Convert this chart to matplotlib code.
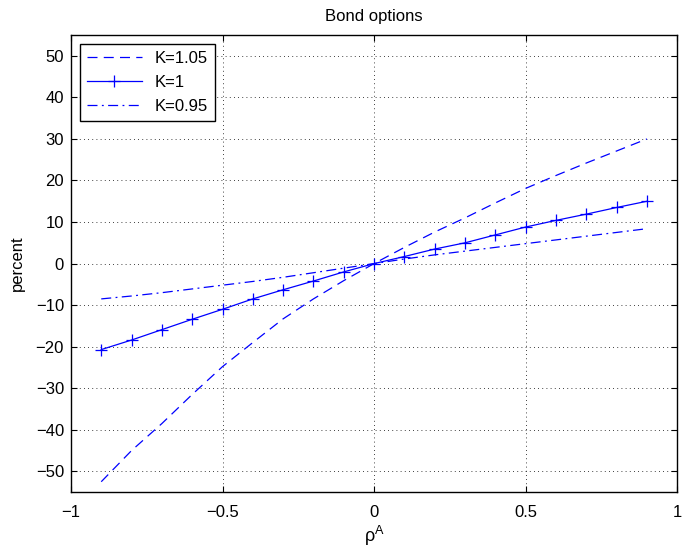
import numpy as np
import matplotlib.pyplot as plt

plt.rcParams['font.family'] = ['Liberation Sans', 'DejaVu Sans']
plt.rcParams['font.size'] = 12

rho = [-0.9, -0.8, -0.7, -0.6, -0.5, -0.4, -0.3, -0.2, -0.1, 0.0,
       0.1, 0.2, 0.3, 0.4, 0.5, 0.6, 0.7, 0.8, 0.9]
k105 = [-52.5, -45.0, -38.5, -31.5, -24.8, -19.0, -13.3, -8.5, -4.1, 0.0,
        3.9, 7.6, 11.0, 14.6, 18.1, 21.2, 24.2, 27.1, 30.0]
k100 = [-20.7, -18.4, -15.9, -13.4, -11.0, -8.5, -6.3, -4.2, -2.0, 0.0,
        1.7, 3.5, 5.0, 6.9, 8.8, 10.4, 11.9, 13.5, 15.0]
k095 = [-8.5, -7.8, -7.0, -6.1, -5.2, -4.3, -3.3, -2.2, -1.1, 0.0,
        1.1, 2.1, 3.0, 3.9, 4.8, 5.7, 6.6, 7.5, 8.4]

fig = plt.figure(figsize=(6.82, 5.48), dpi=100)
ax = fig.add_axes([0.104, 0.102, 0.889, 0.834])

ax.plot(rho, k105, color='blue', lw=0.9, ls=(0, (8, 5)), label='K=1.05')
ax.plot(rho, k100, color='blue', lw=0.9, marker='+', ms=9, mew=0.9, label='K=1')
ax.plot(rho, k095, color='blue', lw=0.9, ls=(0, (8, 3.5, 1.5, 3.5)), label='K=0.95')

ax.set_xlim(-1, 1)
ax.set_ylim(-55, 55)
ax.set_xticks([-1, -0.5, 0, 0.5, 1])
ax.set_xticklabels(['\u22121', '\u22120.5', '0', '0.5', '1'])
ax.set_yticks(np.arange(-50, 51, 10))
ax.grid(True, color='black', ls=(0, (1, 4)), lw=0.6)
ax.tick_params(direction='in', top=True, right=True, length=4, labelsize=12)
ax.tick_params(axis='x', pad=9)
ax.tick_params(axis='y', pad=5)
for s in ax.spines.values():
    s.set_linewidth(1.0)

ax.set_title('Bond options', fontsize=12, pad=10)
ax.set_xlabel(r'$\mathregular{\rho^A}$', fontsize=13, labelpad=3)
ax.set_ylabel('percent', fontsize=12, labelpad=8)

leg = ax.legend(loc='upper left', fancybox=False, framealpha=1,
                edgecolor='black', handlelength=3.3, borderaxespad=0.55,
                fontsize=12, labelspacing=0.55, borderpad=0.4)
leg.get_frame().set_linewidth(1.0)

fig.savefig('out.png', dpi=100)
